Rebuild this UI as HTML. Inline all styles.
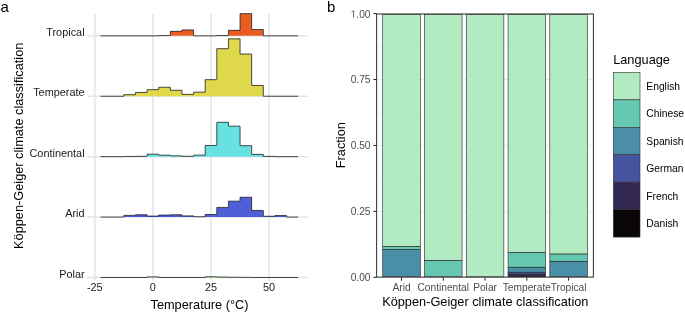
<!DOCTYPE html>
<html><head><meta charset="utf-8"><style>
html,body{margin:0;padding:0;background:#fff;overflow:hidden;width:685px;height:313px;}
svg{display:block;will-change:transform;}
text{font-family:"Liberation Sans",sans-serif;}
.ay{font-size:10.9px;fill:#1a1a1a;}
.ax{font-size:10.9px;fill:#1a1a1a;}
.tt{font-size:12.75px;fill:#000;}
.tag{font-size:15px;fill:#000;}
.bx{font-size:10.2px;fill:#4d4d4d;}
.by{font-size:10.2px;fill:#4d4d4d;}
.lg{font-size:10.3px;fill:#000;}
</style></head><body>
<svg width="685" height="313" viewBox="0 0 685 313">
<rect width="685" height="313" fill="#fff"/>
<line x1="94.80" y1="14" x2="94.80" y2="280.6" stroke="#e4e4e4" stroke-width="1.5"/>
<line x1="152.90" y1="14" x2="152.90" y2="280.6" stroke="#e4e4e4" stroke-width="1.5"/>
<line x1="211.00" y1="14" x2="211.00" y2="280.6" stroke="#e4e4e4" stroke-width="1.5"/>
<line x1="269.10" y1="14" x2="269.10" y2="280.6" stroke="#e4e4e4" stroke-width="1.5"/>
<line x1="87.3" y1="35.85" x2="307.7" y2="35.85" stroke="#e4e4e4" stroke-width="1.5"/>
<line x1="87.3" y1="96.26" x2="307.7" y2="96.26" stroke="#e4e4e4" stroke-width="1.5"/>
<line x1="87.3" y1="156.67" x2="307.7" y2="156.67" stroke="#e4e4e4" stroke-width="1.5"/>
<line x1="87.3" y1="217.08" x2="307.7" y2="217.08" stroke="#e4e4e4" stroke-width="1.5"/>
<line x1="87.3" y1="277.49" x2="307.7" y2="277.49" stroke="#e4e4e4" stroke-width="1.5"/>
<path d="M100.61,35.85 L158.71,35.85 L158.71,35.55 L170.33,35.55 L170.33,31.35 L181.95,31.35 L181.95,29.95 L193.57,29.95 L193.57,35.85 L216.81,35.85 L216.81,35.55 L228.43,35.55 L228.43,30.35 L240.05,30.35 L240.05,13.65 L251.67,13.65 L251.67,29.55 L263.29,29.55 L263.29,35.85 L298.15,35.85 Z" fill="#EA5D21" stroke="none"/>
<path d="M100.61,35.85 L158.71,35.85 L158.71,35.55 L170.33,35.55 L170.33,31.35 L181.95,31.35 L181.95,29.95 L193.57,29.95 L193.57,35.85 L216.81,35.85 L216.81,35.55 L228.43,35.55 L228.43,30.35 L240.05,30.35 L240.05,13.65 L251.67,13.65 L251.67,29.55 L263.29,29.55 L263.29,35.85 L298.15,35.85" fill="none" stroke="#1e1e24" stroke-width="0.8"/>
<text x="84.6" y="35.95" text-anchor="end" class="ay">Tropical</text>
<path d="M100.61,96.26 L123.85,96.26 L123.85,94.66 L135.47,94.66 L135.47,92.46 L147.09,92.46 L147.09,89.66 L158.71,89.66 L158.71,87.26 L170.33,87.26 L170.33,90.26 L181.95,90.26 L181.95,94.36 L193.57,94.36 L193.57,92.16 L205.19,92.16 L205.19,79.66 L216.81,79.66 L216.81,48.66 L228.43,48.66 L228.43,38.86 L240.05,38.86 L240.05,54.06 L251.67,54.06 L251.67,85.46 L263.29,85.46 L263.29,96.26 L298.15,96.26 Z" fill="#DED84A" stroke="none"/>
<path d="M100.61,96.26 L123.85,96.26 L123.85,94.66 L135.47,94.66 L135.47,92.46 L147.09,92.46 L147.09,89.66 L158.71,89.66 L158.71,87.26 L170.33,87.26 L170.33,90.26 L181.95,90.26 L181.95,94.36 L193.57,94.36 L193.57,92.16 L205.19,92.16 L205.19,79.66 L216.81,79.66 L216.81,48.66 L228.43,48.66 L228.43,38.86 L240.05,38.86 L240.05,54.06 L251.67,54.06 L251.67,85.46 L263.29,85.46 L263.29,96.26 L298.15,96.26" fill="none" stroke="#1e1e24" stroke-width="0.8"/>
<text x="84.6" y="96.36" text-anchor="end" class="ay">Temperate</text>
<path d="M100.61,156.67 L123.85,156.67 L123.85,156.47 L135.47,156.47 L135.47,156.37 L147.09,156.37 L147.09,154.17 L158.71,154.17 L158.71,155.17 L170.33,155.17 L170.33,155.87 L181.95,155.87 L181.95,156.27 L193.57,156.27 L193.57,155.17 L205.19,155.17 L205.19,145.47 L216.81,145.47 L216.81,122.27 L228.43,122.27 L228.43,126.17 L240.05,126.17 L240.05,145.67 L251.67,145.67 L251.67,154.37 L263.29,154.37 L263.29,156.37 L274.91,156.37 L274.91,156.67 L298.15,156.67 Z" fill="#67E2E1" stroke="none"/>
<path d="M100.61,156.67 L123.85,156.67 L123.85,156.47 L135.47,156.47 L135.47,156.37 L147.09,156.37 L147.09,154.17 L158.71,154.17 L158.71,155.17 L170.33,155.17 L170.33,155.87 L181.95,155.87 L181.95,156.27 L193.57,156.27 L193.57,155.17 L205.19,155.17 L205.19,145.47 L216.81,145.47 L216.81,122.27 L228.43,122.27 L228.43,126.17 L240.05,126.17 L240.05,145.67 L251.67,145.67 L251.67,154.37 L263.29,154.37 L263.29,156.37 L274.91,156.37 L274.91,156.67 L298.15,156.67" fill="none" stroke="#1e1e24" stroke-width="0.8"/>
<text x="84.6" y="156.77" text-anchor="end" class="ay">Continental</text>
<path d="M100.61,217.08 L123.85,217.08 L123.85,215.38 L135.47,215.38 L135.47,214.78 L147.09,214.78 L147.09,216.08 L158.71,216.08 L158.71,215.08 L170.33,215.08 L170.33,214.78 L181.95,214.78 L181.95,215.88 L193.57,215.88 L193.57,216.78 L205.19,216.78 L205.19,214.48 L216.81,214.48 L216.81,207.38 L228.43,207.38 L228.43,201.18 L240.05,201.18 L240.05,197.28 L251.67,197.28 L251.67,210.48 L263.29,210.48 L263.29,216.28 L274.91,216.28 L274.91,215.58 L286.53,215.58 L286.53,217.08 L298.15,217.08 Z" fill="#4F5FD7" stroke="none"/>
<path d="M100.61,217.08 L123.85,217.08 L123.85,215.38 L135.47,215.38 L135.47,214.78 L147.09,214.78 L147.09,216.08 L158.71,216.08 L158.71,215.08 L170.33,215.08 L170.33,214.78 L181.95,214.78 L181.95,215.88 L193.57,215.88 L193.57,216.78 L205.19,216.78 L205.19,214.48 L216.81,214.48 L216.81,207.38 L228.43,207.38 L228.43,201.18 L240.05,201.18 L240.05,197.28 L251.67,197.28 L251.67,210.48 L263.29,210.48 L263.29,216.28 L274.91,216.28 L274.91,215.58 L286.53,215.58 L286.53,217.08 L298.15,217.08" fill="none" stroke="#1e1e24" stroke-width="0.8"/>
<text x="84.6" y="217.18" text-anchor="end" class="ay">Arid</text>
<path d="M100.61,277.49 L147.09,277.49 L147.09,276.89 L158.71,276.89 L158.71,277.49 L205.19,277.49 L205.19,276.79 L216.81,276.79 L216.81,277.09 L228.43,277.09 L228.43,277.29 L240.05,277.29 L240.05,277.39 L251.67,277.39 L251.67,277.49 L298.15,277.49 Z" fill="#8EEF6A" stroke="none"/>
<path d="M100.61,277.49 L147.09,277.49 L147.09,276.89 L158.71,276.89 L158.71,277.49 L205.19,277.49 L205.19,276.79 L216.81,276.79 L216.81,277.09 L228.43,277.09 L228.43,277.29 L240.05,277.29 L240.05,277.39 L251.67,277.39 L251.67,277.49 L298.15,277.49" fill="none" stroke="#1e1e24" stroke-width="0.8"/>
<text x="84.6" y="277.59" text-anchor="end" class="ay">Polar</text>
<text x="94.80" y="291.0" text-anchor="middle" class="ax">-25</text>
<text x="152.90" y="291.0" text-anchor="middle" class="ax">0</text>
<text x="211.00" y="291.0" text-anchor="middle" class="ax">25</text>
<text x="269.10" y="291.0" text-anchor="middle" class="ax">50</text>
<text x="199.5" y="308.7" text-anchor="middle" class="tt">Temperature (°C)</text>
<text transform="translate(23.0,145.8) rotate(-90)" text-anchor="middle" class="tt">Köppen-Geiger climate classification</text>
<text x="0.4" y="12" class="tag">a</text>
<text x="327" y="12" class="tag">b</text>
<line x1="376.6" y1="277.30" x2="593.4" y2="277.30" stroke="#ebebeb" stroke-width="1.0"/>
<line x1="376.6" y1="244.34" x2="593.4" y2="244.34" stroke="#ebebeb" stroke-width="0.5"/>
<line x1="376.6" y1="211.38" x2="593.4" y2="211.38" stroke="#ebebeb" stroke-width="1.0"/>
<line x1="376.6" y1="178.41" x2="593.4" y2="178.41" stroke="#ebebeb" stroke-width="0.5"/>
<line x1="376.6" y1="145.45" x2="593.4" y2="145.45" stroke="#ebebeb" stroke-width="1.0"/>
<line x1="376.6" y1="112.49" x2="593.4" y2="112.49" stroke="#ebebeb" stroke-width="0.5"/>
<line x1="376.6" y1="79.53" x2="593.4" y2="79.53" stroke="#ebebeb" stroke-width="1.0"/>
<line x1="376.6" y1="46.56" x2="593.4" y2="46.56" stroke="#ebebeb" stroke-width="0.5"/>
<line x1="376.6" y1="13.60" x2="593.4" y2="13.60" stroke="#ebebeb" stroke-width="1.0"/>
<rect x="382.70" y="249.40" width="37.60" height="27.40" fill="#4B8EA7" stroke="#222" stroke-width="0.6"/>
<rect x="382.70" y="246.29" width="37.60" height="3.11" fill="#66C8B0" stroke="#222" stroke-width="0.6"/>
<rect x="382.70" y="14.30" width="37.60" height="231.99" fill="#B2EBC2" stroke="#222" stroke-width="0.6"/>
<line x1="401.5" y1="277.3" x2="401.5" y2="280.7" stroke="#222" stroke-width="1.0"/>
<text x="401.5" y="291.2" text-anchor="middle" class="bx">Arid</text>
<rect x="424.48" y="260.29" width="37.60" height="16.51" fill="#66C8B0" stroke="#222" stroke-width="0.6"/>
<rect x="424.48" y="14.30" width="37.60" height="245.99" fill="#B2EBC2" stroke="#222" stroke-width="0.6"/>
<line x1="443.28" y1="277.3" x2="443.28" y2="280.7" stroke="#222" stroke-width="1.0"/>
<text x="443.28" y="291.2" text-anchor="middle" class="bx">Continental</text>
<rect x="466.26" y="14.30" width="37.60" height="262.50" fill="#B2EBC2" stroke="#222" stroke-width="0.6"/>
<line x1="485.06" y1="277.3" x2="485.06" y2="280.7" stroke="#222" stroke-width="1.0"/>
<text x="485.06" y="291.2" text-anchor="middle" class="bx">Polar</text>
<rect x="508.04" y="276.25" width="37.60" height="0.55" fill="#0A0508" stroke="#222" stroke-width="0.6"/>
<rect x="508.04" y="274.14" width="37.60" height="2.11" fill="#332753" stroke="#222" stroke-width="0.6"/>
<rect x="508.04" y="272.21" width="37.60" height="1.93" fill="#46549D" stroke="#222" stroke-width="0.6"/>
<rect x="508.04" y="267.20" width="37.60" height="5.01" fill="#4B8EA7" stroke="#222" stroke-width="0.6"/>
<rect x="508.04" y="252.30" width="37.60" height="14.90" fill="#66C8B0" stroke="#222" stroke-width="0.6"/>
<rect x="508.04" y="14.30" width="37.60" height="238.00" fill="#B2EBC2" stroke="#222" stroke-width="0.6"/>
<line x1="526.84" y1="277.3" x2="526.84" y2="280.7" stroke="#222" stroke-width="1.0"/>
<text x="526.84" y="291.2" text-anchor="middle" class="bx">Temperate</text>
<rect x="549.82" y="261.29" width="37.60" height="15.51" fill="#4B8EA7" stroke="#222" stroke-width="0.6"/>
<rect x="549.82" y="253.91" width="37.60" height="7.38" fill="#66C8B0" stroke="#222" stroke-width="0.6"/>
<rect x="549.82" y="14.30" width="37.60" height="239.61" fill="#B2EBC2" stroke="#222" stroke-width="0.6"/>
<line x1="568.62" y1="277.3" x2="568.62" y2="280.7" stroke="#222" stroke-width="1.0"/>
<text x="568.62" y="291.2" text-anchor="middle" class="bx">Tropical</text>
<rect x="376.6" y="14.0" width="216.80" height="263.10" fill="none" stroke="#3a3a3a" stroke-width="1.05"/>
<line x1="373.40000000000003" y1="277.30" x2="376.6" y2="277.30" stroke="#222" stroke-width="1.0"/>
<text x="370.5" y="281.20" text-anchor="end" class="by">0.00</text>
<line x1="373.40000000000003" y1="211.38" x2="376.6" y2="211.38" stroke="#222" stroke-width="1.0"/>
<text x="370.5" y="215.28" text-anchor="end" class="by">0.25</text>
<line x1="373.40000000000003" y1="145.45" x2="376.6" y2="145.45" stroke="#222" stroke-width="1.0"/>
<text x="370.5" y="149.35" text-anchor="end" class="by">0.50</text>
<line x1="373.40000000000003" y1="79.53" x2="376.6" y2="79.53" stroke="#222" stroke-width="1.0"/>
<text x="370.5" y="83.43" text-anchor="end" class="by">0.75</text>
<line x1="373.40000000000003" y1="13.60" x2="376.6" y2="13.60" stroke="#222" stroke-width="1.0"/>
<text x="370.5" y="17.50" text-anchor="end" class="by">.00</text>
<path transform="translate(350.647,17.500) scale(0.004980,-0.004980)" d="M515,0 L696,0 L696,1409 L530,1409 L197,1180 L197,1010 L515,1237 Z" fill="#4d4d4d"/>
<text x="485.3" y="306.2" text-anchor="middle" class="tt">Köppen-Geiger climate classification</text>
<text transform="translate(345.3,145.2) rotate(-90)" text-anchor="middle" class="tt">Fraction</text>
<text x="613.2" y="64.1" class="tt">Language</text>
<rect x="613.3" y="72.40" width="26.7" height="27.45" fill="#B2EBC2" stroke="#333" stroke-width="0.6"/>
<text x="646.3" y="89.88" class="lg">English</text>
<rect x="613.3" y="99.85" width="26.7" height="27.45" fill="#66C8B0" stroke="#333" stroke-width="0.6"/>
<text x="646.3" y="117.33" class="lg">Chinese</text>
<rect x="613.3" y="127.30" width="26.7" height="27.45" fill="#4B8EA7" stroke="#333" stroke-width="0.6"/>
<text x="646.3" y="144.78" class="lg">Spanish</text>
<rect x="613.3" y="154.75" width="26.7" height="27.45" fill="#46549D" stroke="#333" stroke-width="0.6"/>
<text x="646.3" y="172.22" class="lg">German</text>
<rect x="613.3" y="182.20" width="26.7" height="27.45" fill="#332753" stroke="#333" stroke-width="0.6"/>
<text x="646.3" y="199.67" class="lg">French</text>
<rect x="613.3" y="209.65" width="26.7" height="27.45" fill="#0A0508" stroke="#333" stroke-width="0.6"/>
<text x="646.3" y="227.12" class="lg">Danish</text>
</svg>
</body></html>
